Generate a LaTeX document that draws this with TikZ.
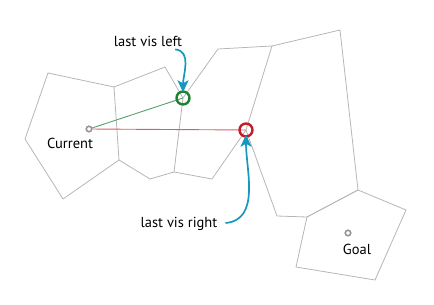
\documentclass[tikz,border=0pt]{standalone}
\usepackage{fontspec}
\setmainfont{PT Sans}
\usetikzlibrary{arrows.meta,calc,positioning}
\definecolor{cedge}{RGB}{182,182,182}
\definecolor{cleft}{RGB}{30,130,50}
\definecolor{cright}{RGB}{196,28,40}
\definecolor{cpoint}{RGB}{150,150,150}
\definecolor{carrow}{RGB}{22,152,190}
\tikzset{
  cell/.style={draw=cedge,line width=0.8pt,line join=miter},
  portal/.style={circle,minimum size=13pt,inner sep=0pt,line width=2.4pt},
  endpt/.style={circle,draw=cpoint,line width=1.6pt,fill=white,
    minimum size=5.5pt,inner sep=0pt},
  lab/.style={font=\fontsize{14.5}{16}\selectfont,inner sep=1pt},
  callout/.style={-{Stealth[length=12pt,width=11pt,inset=3pt]},carrow,line width=1.7pt}
}
\begin{document}
\begin{tikzpicture}[x=1pt,y=-1pt]
  \useasboundingbox (0,0) rectangle (434,305);
  % mesh vertices (pixel coordinates, y downward)
  \coordinate (A) at (48,73);
  \coordinate (B) at (114,87);
  \coordinate (C) at (119,160);
  \coordinate (D) at (63,199);
  \coordinate (E) at (25,139);
  \coordinate (F) at (165,67);
  \coordinate (G) at (183,98);
  \coordinate (H) at (174,172);
  \coordinate (I) at (150,179);
  \coordinate (J) at (218,49);
  \coordinate (K) at (272,46);
  \coordinate (R) at (246,130);
  \coordinate (L) at (212,179);
  \coordinate (M) at (340,30);
  \coordinate (O) at (358,190);
  \coordinate (Q) at (307,217);
  \coordinate (S) at (277,216);
  \coordinate (T) at (406,210);
  \coordinate (U) at (375,280);
  \coordinate (V) at (296,267);
  % cells
  \draw[cell] (A) -- (B) -- (C) -- (D) -- (E) -- cycle;
  \draw[cell] (B) -- (F) -- (G) -- (H) -- (I) -- (C);
  \draw[cell] (G) -- (J) -- (K) -- (R) -- (L) -- (H);
  \draw[cell] (K) -- (M) -- (O) -- (Q) -- (S) -- (R);
  \draw[cell] (Q) -- (O) -- (T) -- (U) -- (V) -- cycle;
  % start, goal and the two visibility points
  \node[endpt] (cur) at (89,129) {};
  \node[endpt] (goal) at (348,233) {};
  \draw[cleft!75!white,line width=0.9pt] (cur) -- (G);
  \draw[cright!70!white,line width=0.9pt] (cur) -- (R);
  \node[portal,draw=cleft] (vleft) at (G) {};
  \node[portal,draw=cright] (vright) at (R) {};
  \node[lab] (curlab) at (70,143) {Current};
  \node[lab] (goallab) at (357,249) {Goal};
  \node[lab] (leftlab) at (148,41) {last vis left};
  \node[lab] (rightlab) at (179,224) {last vis right};
  \draw[callout] ([xshift=-8pt,yshift=-2pt]leftlab.south east)
    to[out=-5,in=90] ([yshift=-2pt]vleft.north);
  \draw[callout] ([xshift=7pt,yshift=1pt]rightlab.east)
    to[out=5,in=-90] ([yshift=3pt]vright.south);
\end{tikzpicture}
\end{document}
